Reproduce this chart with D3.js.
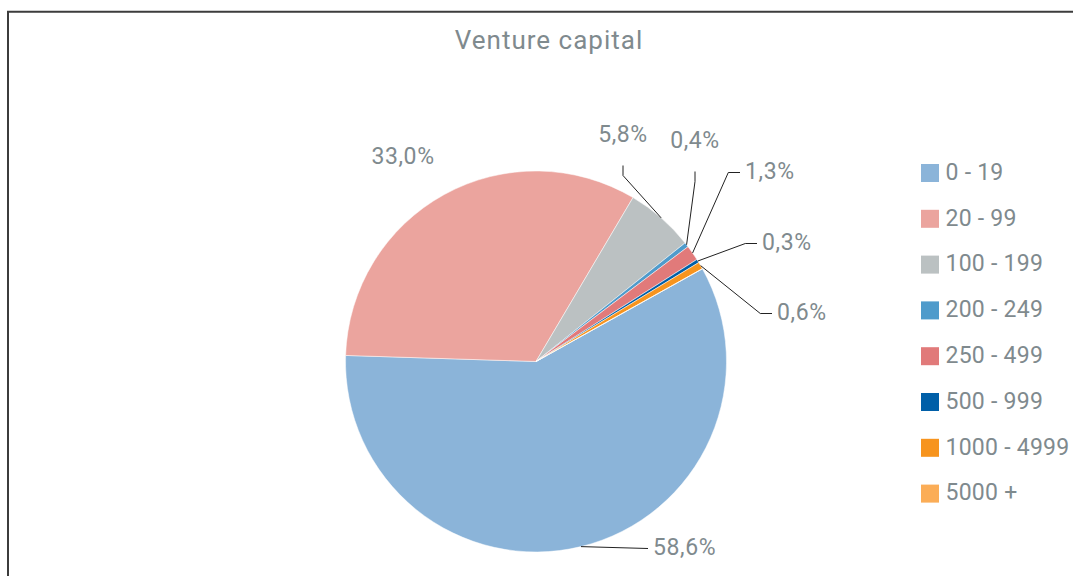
<!DOCTYPE html>
<html>
<head>
<meta charset="utf-8">
<script src="https://cdn.jsdelivr.net/npm/d3@7"></script>
<style>
  html, body { margin: 0; padding: 0; background: #fff; }
  svg { display: block; }
  text { font-family: Roboto, "Noto Sans", sans-serif; fill: #7f8a8e; }
</style>
</head>
<body>
<svg id="chart" width="1073" height="576"></svg>
<script>
// ---- data ----
const title = "Venture capital";
const categories = ["0 - 19", "20 - 99", "100 - 199", "200 - 249", "250 - 499", "500 - 999", "1000 - 4999", "5000 +"];
const shares = [58.6, 33.0, 5.8, 0.4, 1.3, 0.3, 0.6, 0.0];
const percentLabels = ["58,6%", "33,0%", "5,8%", "0,4%", "1,3%", "0,3%", "0,6%", ""];
const colors = ["#8bb4d9", "#eba49e", "#bbc1c2", "#4f9bcb", "#e17a7a", "#005fa8", "#f7941e", "#fbad57"];

// ---- layout (label placement relative to pie center) ----
const labelLayout = [
  { x: 117, y: 185, anchor: "start", leader: "straight" },
  { x: -133, y: -206, anchor: "middle", leader: "none" },
  { x: 87, y: -228, anchor: "middle", leader: "vertical" },
  { x: 159, y: -222, anchor: "middle", leader: "vertical" },
  { x: 209, y: -191, anchor: "start", leader: "horizontal" },
  { x: 226, y: -120, anchor: "start", leader: "horizontal" },
  { x: 241, y: -50, anchor: "start", leader: "horizontal" },
  { x: 0, y: 0, anchor: "start", leader: "none" }
];

const svg = d3.select("#chart");
const cx = 536, cy = 361.5, R = 190.5;

// frame
svg.append("path")
  .attr("d", "M8,576 L8,11.8 L1073,11.8")
  .attr("fill", "none").attr("stroke", "#3c3c3c").attr("stroke-width", 2);

// title
svg.append("text")
  .attr("x", 549).attr("y", 48.5)
  .attr("text-anchor", "middle")
  .style("font-size", "26px").style("letter-spacing", "1px")
  .text(title);

const startDeg = 60.86;
const pie = d3.pie().sort(null).value(d => d)
  .startAngle(startDeg * Math.PI / 180)
  .endAngle(startDeg * Math.PI / 180 + 2 * Math.PI);
const arcs = pie(shares);
const arc = d3.arc().innerRadius(0).outerRadius(R);

const g = svg.append("g").attr("transform", `translate(${cx},${cy})`);
g.selectAll("path.slice").data(arcs).enter().append("path")
  .attr("class", "slice")
  .attr("d", arc)
  .attr("fill", (d, i) => colors[i])
  .attr("stroke", "#fff").attr("stroke-width", 0.5);

// labels + leader lines
arcs.forEach((d, i) => {
  const L = labelLayout[i];
  if (!percentLabels[i]) return;
  const mid = (d.startAngle + d.endAngle) / 2;
  const ax = R * Math.sin(mid), ay = -R * Math.cos(mid);
  let pts = null;
  if (L.leader === "straight") {
    pts = [[ax, ay], [L.x - 5, L.y + 2]];
  } else if (L.leader === "horizontal") {
    const ex = L.x - 5, ey = L.y + 2;
    pts = [[ax, ay], [ex - 11.7, ey], [ex, ey]];
  } else if (L.leader === "vertical") {
    const ex = L.x, ey = L.y + 32;
    pts = [[ax, ay], [ex, ey + 10], [ex, ey]];
  }
  if (pts) {
    g.append("path")
      .attr("d", d3.line()(pts))
      .attr("fill", "none").attr("stroke", "#222").attr("stroke-width", 1);
  }
  g.append("text")
    .attr("x", L.x).attr("y", L.y).attr("dy", "0.36em")
    .attr("text-anchor", L.anchor)
    .style("font-size", "23px").style("letter-spacing", "0.6px")
    .text(percentLabels[i]);
});

// legend
const legend = svg.append("g").attr("transform", "translate(921,164)");
categories.forEach((c, i) => {
  const row = legend.append("g").attr("transform", `translate(0,${i * 45.8})`);
  row.append("rect").attr("width", 18).attr("height", 18).attr("fill", colors[i]);
  row.append("text").attr("x", 24.5).attr("y", 7.5).attr("dy", "0.36em")
    .style("font-size", "23px").style("letter-spacing", "0.25px")
    .text(c);
});
</script>
</body>
</html>
